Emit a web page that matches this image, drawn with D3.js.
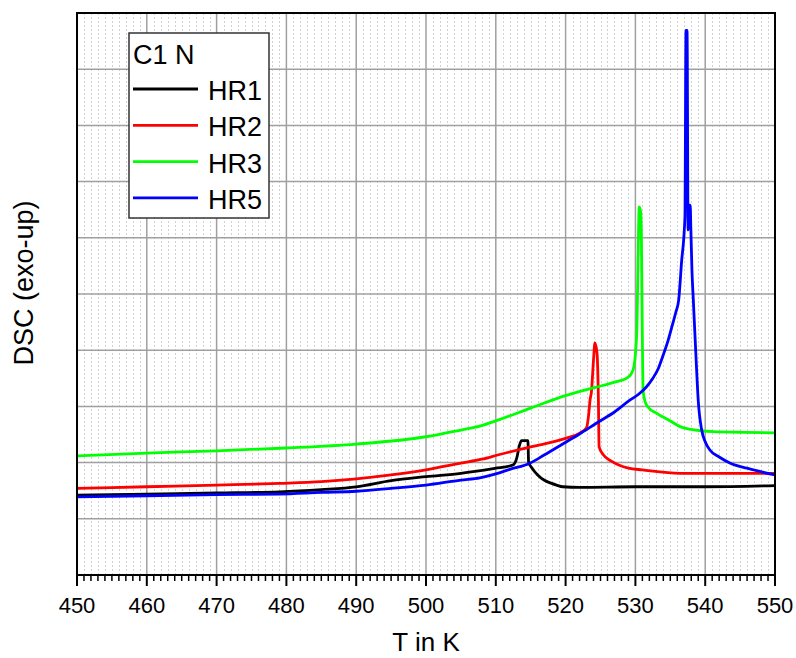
<!DOCTYPE html>
<html>
<head>
<meta charset="utf-8">
<script src="https://cdn.jsdelivr.net/npm/d3@7"></script>
<style>
  html, body { margin: 0; padding: 0; background: #fff; }
  svg text { font-family: "Liberation Sans", Arial, sans-serif; fill: #000; }
</style>
</head>
<body>
<div id="chart"></div>
<script>
// T in K, DSC signal in grid units (exo-up, arbitrary)
const hr1 = [
  [450, 1.42], [460, 1.44], [470, 1.46], [479, 1.48], [485, 1.52], [490, 1.57],
  [495, 1.68], [500, 1.75], [505, 1.81], [510, 1.90], [512, 1.94], [512.5, 1.96],
  [513, 2.08], [513.4, 2.31], [513.7, 2.39], [514.6, 2.39], [514.7, 2.01],
  [515.2, 1.90], [516, 1.78], [516.9, 1.69], [518, 1.63], [518.7, 1.60],
  [519.6, 1.57], [522, 1.56], [530, 1.57], [540, 1.57], [550, 1.59]
]
const hr2 = [
  [450, 1.54], [460, 1.57], [470, 1.60], [479, 1.63], [485, 1.66], [490, 1.71],
  [495, 1.78], [500, 1.87], [505, 1.99], [508, 2.06], [510.4, 2.14], [515, 2.28],
  [520, 2.43], [522.1, 2.53], [523, 2.62], [523.3, 2.85], [523.5, 3.11],
  [523.7, 3.26], [524.0, 3.83], [524.2, 4.13], [524.5, 3.95], [524.7, 3.11],
  [524.8, 2.28], [525.4, 2.14], [526.5, 2.03], [529, 1.90], [531, 1.87],
  [536.4, 1.81], [540, 1.81], [550, 1.81]
]
const hr3 = [
  [450, 2.12], [460, 2.17], [470, 2.21], [480, 2.26], [490, 2.33], [500, 2.46],
  [505, 2.58], [507.7, 2.65], [510.4, 2.76], [515, 2.97], [520.2, 3.20],
  [524, 3.33], [527.3, 3.44], [528.7, 3.50], [529.4, 3.58], [529.8, 3.72],
  [530.2, 4.33], [530.4, 5.78], [530.55, 6.55], [530.75, 6.46], [530.85, 6.14],
  [531.0, 4.18], [531.1, 3.29], [531.4, 3.08], [531.8, 2.99], [533, 2.88],
  [535, 2.74], [536.4, 2.64], [538, 2.59], [541.2, 2.55], [545, 2.54], [550, 2.53]
]
const hr5 = [
  [450, 1.39], [460, 1.41], [470, 1.43], [479, 1.44], [485, 1.47], [490, 1.49],
  [495, 1.54], [500, 1.60], [505, 1.69], [507.7, 1.73], [510, 1.80], [512, 1.88],
  [514.9, 1.99], [517, 2.14], [519.7, 2.34], [522, 2.51], [524.4, 2.70],
  [527, 2.90], [529.2, 3.11], [530.5, 3.22], [531.6, 3.35], [532.5, 3.50],
  [533.3, 3.68], [534.0, 3.92], [534.7, 4.18], [535.3, 4.45], [535.8, 4.68],
  [536.2, 4.89], [536.6, 5.55], [537.1, 6.38], [537.25, 9.69],
  [537.4, 9.69], [537.55, 6.14], [537.7, 6.58], [537.85, 6.58], [537.95, 6.14],
  [538.1, 5.43], [538.3, 4.89], [538.7, 3.83], [539.0, 3.11], [539.5, 2.58],
  [540.0, 2.37], [540.7, 2.22], [542, 2.10], [543.6, 1.99], [546, 1.90], [550, 1.78]
]

const series = [
  { name: "HR1", color: "#000000", values: hr1 },
  { name: "HR2", color: "#ff0000", values: hr2 },
  { name: "HR3", color: "#00ff00", values: hr3 },
  { name: "HR5", color: "#0000ff", values: hr5 }
]
const xTicks = [450, 460, 470, 480, 490, 500, 510, 520, 530, 540, 550]
const yGrid = [1, 2, 3, 4, 5, 6, 7, 8, 9]

const width = 796
const height = 658
const margin = { top: 13, right: 21, bottom: 83, left: 77 }
const innerW = width - margin.left - margin.right
const innerH = height - margin.top - margin.bottom

const x = d3.scaleLinear().domain([450, 550]).range([0, innerW])
const y = d3.scaleLinear().domain([0, 10]).range([innerH, 0])

const svg = d3.select("#chart")
  .append("svg")
  .attr("width", width)
  .attr("height", height)

const g = svg.append("g")
  .attr("transform", `translate(${margin.left},${margin.top})`)

g.append("clipPath").attr("id", "clip")
  .append("rect").attr("width", innerW).attr("height", innerH)

const minorT = d3.range(451, 550).filter(t => t % 10 !== 0)

// minor vertical grid, every 1 K
g.append("g")
  .selectAll("line")
  .data(minorT)
  .join("line")
  .attr("x1", d => Math.round(x(d)) + 0.5).attr("x2", d => Math.round(x(d)) + 0.5)
  .attr("y1", 0).attr("y2", innerH)
  .attr("stroke", "#d2d2d2")
  .attr("stroke-width", 1)
  .attr("stroke-dasharray", "2,2")

// major grid
g.append("g")
  .selectAll("line")
  .data(xTicks.slice(1, -1))
  .join("line")
  .attr("x1", d => x(d)).attr("x2", d => x(d))
  .attr("y1", 0).attr("y2", innerH)
  .attr("stroke", "#a0a0a0")
  .attr("stroke-width", 1.5)

g.append("g")
  .selectAll("line")
  .data(yGrid)
  .join("line")
  .attr("x1", 0).attr("x2", innerW)
  .attr("y1", d => y(d)).attr("y2", d => y(d))
  .attr("stroke", "#a0a0a0")
  .attr("stroke-width", 1.5)

// curves
const line = d3.line()
  .x(d => x(d[0]))
  .y(d => y(d[1]))
  .curve(d3.curveMonotoneX)

g.append("g")
  .attr("clip-path", "url(#clip)")
  .selectAll("path")
  .data(series)
  .join("path")
  .attr("d", d => line(d.values))
  .attr("fill", "none")
  .attr("stroke", d => d.color)
  .attr("stroke-width", 2.8)
  .attr("stroke-linejoin", "round")

// frame
g.append("rect")
  .attr("width", innerW)
  .attr("height", innerH)
  .attr("fill", "none")
  .attr("stroke", "#000")
  .attr("stroke-width", 2)

// x axis ticks (outward)
const ax = g.append("g").attr("transform", `translate(0,${innerH})`)
ax.selectAll("line.minor")
  .data(minorT)
  .join("line")
  .attr("class", "minor")
  .attr("x1", d => x(d)).attr("x2", d => x(d))
  .attr("y1", 0).attr("y2", 6)
  .attr("stroke", "#000").attr("stroke-width", 1.5)
ax.selectAll("line.major")
  .data(xTicks)
  .join("line")
  .attr("class", "major")
  .attr("x1", d => x(d)).attr("x2", d => x(d))
  .attr("y1", 0).attr("y2", 11)
  .attr("stroke", "#000").attr("stroke-width", 2)
ax.selectAll("text")
  .data(xTicks)
  .join("text")
  .attr("x", d => x(d))
  .attr("y", 38)
  .attr("text-anchor", "middle")
  .attr("font-size", "22px")
  .text(d => d)

svg.append("text")
  .attr("x", margin.left + innerW / 2)
  .attr("y", 651)
  .attr("text-anchor", "middle")
  .attr("font-size", "26px")
  .text("T in K")

svg.append("text")
  .attr("transform", "translate(33,283) rotate(-90)")
  .attr("text-anchor", "middle")
  .attr("font-size", "27px")
  .text("DSC (exo-up)")

// legend
const legend = svg.append("g").attr("transform", "translate(129,33)")
legend.append("rect")
  .attr("width", 140)
  .attr("height", 185)
  .attr("fill", "#fff")
  .attr("stroke", "#333")
  .attr("stroke-width", 1.5)
legend.append("text")
  .attr("x", 4)
  .attr("y", 31)
  .attr("font-size", "27px")
  .text("C1 N")

const item = legend.selectAll("g.item")
  .data(series)
  .join("g")
  .attr("class", "item")
  .attr("transform", (d, i) => `translate(0,${56 + i * 36.3})`)
item.append("line")
  .attr("x1", 4).attr("x2", 69)
  .attr("stroke", d => d.color)
  .attr("stroke-width", 2.8)
item.append("text")
  .attr("x", 79)
  .attr("y", 11)
  .attr("font-size", "27px")
  .text(d => d.name)
</script>
</body>
</html>
